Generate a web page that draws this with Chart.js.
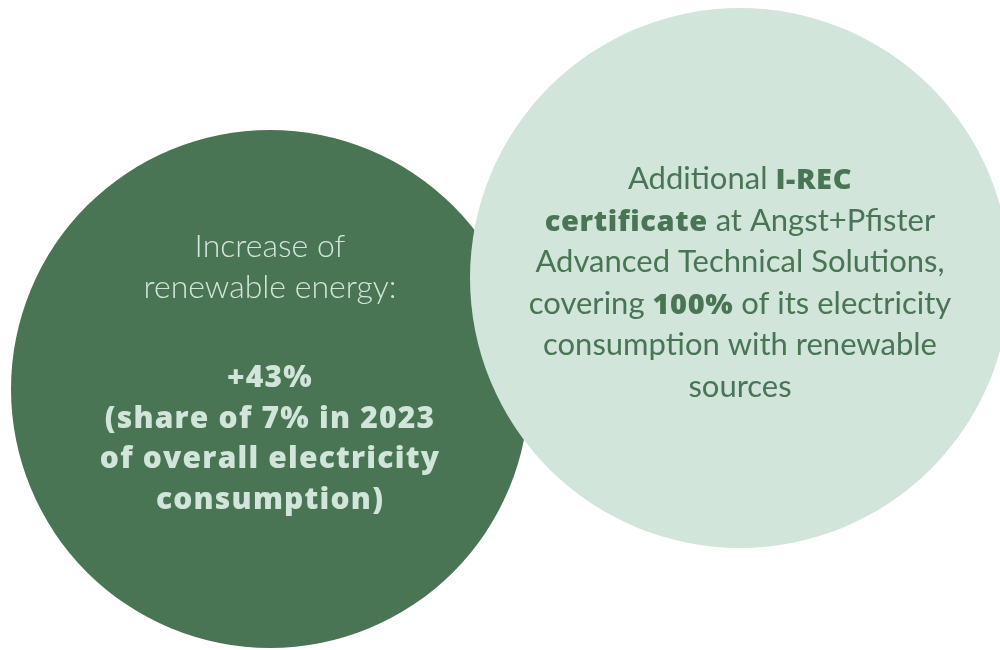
<!DOCTYPE html>
<html>
<head>
<meta charset="utf-8">
<script src="https://cdn.jsdelivr.net/npm/chart.js@4.4.1/dist/chart.umd.min.js"></script>
<style>
    html, body { margin: 0; padding: 0; background: #ffffff; }
    #wrap { width: 1000px; height: 650px; }
</style>
</head>
<body>
<div id="wrap"><canvas id="myChart" width="1000" height="650"></canvas></div>
<script>
// circles (bubble centre in page units, radius in px)
const circleLabels = ['Renewable energy', 'I-REC certificate'];
const circleX = [270, 740];
const circleY = [389, 278];
const circleR = [259, 270];
const circleColors = ['#4a7555', '#d1e5da'];
const textColors = ['#d1e5da', '#4a7555'];

// text inside the circles: [text, bold]
const leftText = [
    [['Increase of', 0]],
    [['renewable energy:', 0]],
    null,
    [['+43%', 1]],
    [['(share of 7% in 2023', 1]],
    [['of overall electricity', 1]],
    [['consumption)', 1]],
];
const rightText = [
    [['Additional ', 0], ['I-REC', 1]],
    [['certificate', 1], [' at Angst+Pfister', 0]],
    [['Advanced Technical Solutions,', 0]],
    [['covering ', 0], ['100%', 1], [' of its electricity', 0]],
    [['consumption with renewable', 0]],
    [['sources', 0]],
];

const blocks = [
    { lines: leftText, circle: 0, top: 257, lineHeight: 40.5, gap: 49,
      font: '300 32px Lato', bold: '800 30px "Open Sans"', boldSpacing: '1.2px' },
    { lines: rightText, circle: 1, top: 189, lineHeight: 41.5, gap: 0,
      font: '400 31px Lato', bold: '800 29px "Open Sans"', boldSpacing: '0.6px' },
];

const circleText = {
    id: 'circleText',
    afterDatasetsDraw(chart) {
        const ctx = chart.ctx;
        const xs = chart.scales.x, ys = chart.scales.y;
        ctx.save();
        ctx.textBaseline = 'alphabetic';
        ctx.textAlign = 'left';
        const setFont = (block, bold) => {
            ctx.font = bold ? block.bold : block.font;
            ctx.letterSpacing = bold ? block.boldSpacing : '0px';
        };
        blocks.forEach(block => {
            const cx = xs.getPixelForValue(circleX[block.circle]);
            let y = block.top;
            ctx.fillStyle = textColors[block.circle];
            block.lines.forEach(line => {
                if (!line) { y += block.gap; return; }
                let total = 0;
                const widths = line.map(seg => { setFont(block, seg[1]); const w = ctx.measureText(seg[0]).width; total += w; return w; });
                let x = cx - total / 2;
                line.forEach((seg, i) => {
                    setFont(block, seg[1]);
                    ctx.fillText(seg[0], x, ys.getPixelForValue(y));
                    x += widths[i];
                });
                y += block.lineHeight;
            });
        });
        ctx.restore();
    }
};

const ctx = document.getElementById('myChart').getContext('2d');
new Chart(ctx, {
    type: 'bubble',
    data: {
        labels: circleLabels,
        datasets: [{
            data: circleX.map((x, i) => ({ x: x, y: circleY[i], r: circleR[i] })),
            backgroundColor: circleColors,
            borderWidth: 0,
            hoverBorderWidth: 0,
            clip: false,
        }],
    },
    options: {
        responsive: false,
        devicePixelRatio: 1,
        animation: false,
        layout: { padding: 0, autoPadding: false },
        events: [],
        scales: {
            x: { type: 'linear', min: 0, max: 1000, display: false },
            y: { type: 'linear', min: 0, max: 650, reverse: true, display: false },
        },
        plugins: {
            legend: { display: false },
            tooltip: { enabled: false },
        },
    },
    plugins: [circleText],
});
</script>
</body>
</html>
